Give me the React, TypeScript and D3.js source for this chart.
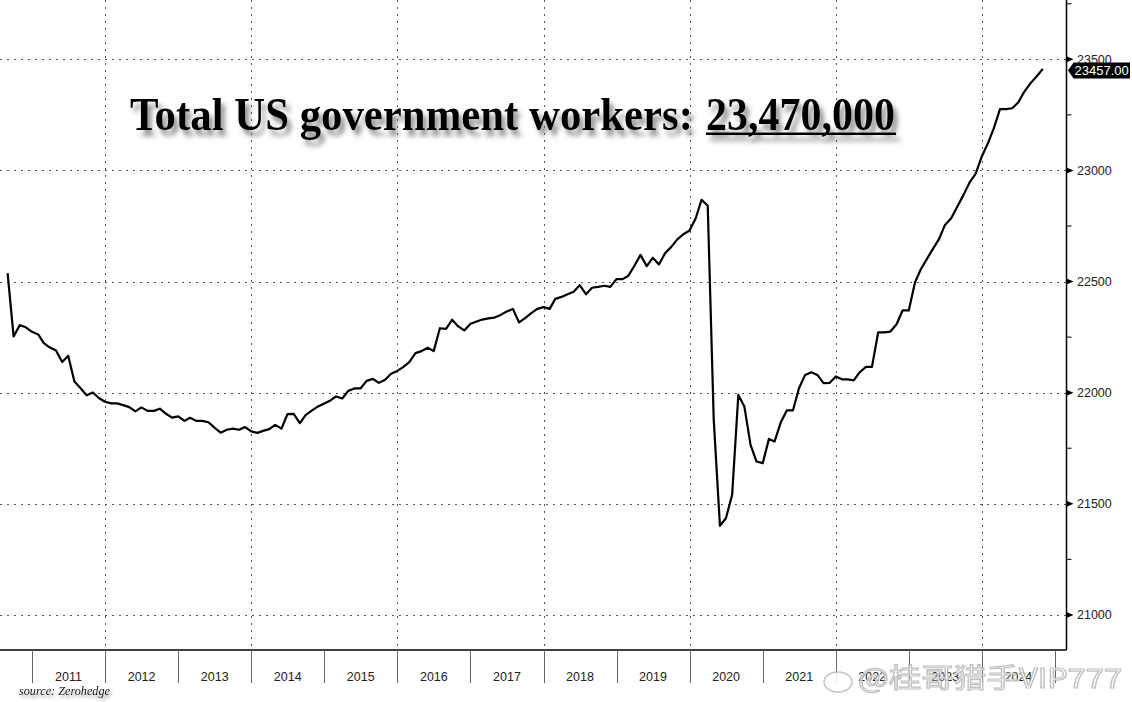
import React from "react";
import * as d3 from "d3";

// Monthly total US government employment (thousands), Sep 2010 .. Nov 2024
const startMonth = new Date(2010, 8, 1);
const govWorkers: number[] = [
  22538, 22253, 22304, 22294, 22274, 22262, 22223, 22203, 22190, 22138, 22166, 22050,
  22020, 21988, 22001, 21976, 21959, 21952, 21952, 21944, 21935, 21916, 21934, 21918,
  21918, 21928, 21905, 21888, 21893, 21873, 21887, 21873, 21873, 21867, 21843, 21820,
  21833, 21838, 21833, 21845, 21826, 21819, 21828, 21836, 21855, 21838, 21903, 21905,
  21863, 21900, 21920, 21938, 21951, 21965, 21983, 21974, 22008, 22019, 22019, 22053,
  22062, 22044, 22058, 22085, 22098, 22116, 22137, 22178, 22187, 22202, 22187, 22290,
  22287, 22328, 22298, 22280, 22310, 22320, 22329, 22334, 22338, 22350, 22365, 22377,
  22316, 22335, 22358, 22377, 22385, 22377, 22422, 22431, 22443, 22454, 22484, 22443,
  22472, 22476, 22481, 22476, 22511, 22511, 22526, 22572, 22620, 22569, 22607, 22577,
  22628, 22655, 22690, 22713, 22730, 22785, 22868, 22841, 21878, 21401, 21435, 21540,
  21990, 21938, 21765, 21690, 21683, 21792, 21780, 21866, 21920, 21920, 22020, 22080,
  22092, 22080, 22043, 22044, 22073, 22060, 22060, 22055, 22092, 22116, 22116, 22271,
  22271, 22275, 22308, 22370, 22370, 22496, 22553, 22601, 22646, 22691, 22755, 22785,
  22838, 22889, 22946, 22985, 23063, 23123, 23189, 23276, 23276, 23280, 23306, 23355,
  23393, 23423, 23457,
];
const yearLabels: number[] = [2011, 2012, 2013, 2014, 2015, 2016, 2017, 2018, 2019, 2020, 2021, 2022, 2023, 2024];
const gridYears: number[] = [2012, 2014, 2016, 2018, 2020, 2022, 2024];
const majorTicks: number[] = [21000, 21500, 22000, 22500, 23000, 23500];
const minorTicks: number[] = [21250, 21750, 22250, 22750, 23250, 23750];
const titleText = "Total US government workers:";
const titleNumber = "23,470,000";
const sourceText = "source: Zerohedge";
const watermark = "@桂哥猎手VIP777";

const W = 1132;
const H = 702;
const axisX = 1066.5;
const axisY = 650;

export default function App() {
  const x = d3
    .scaleTime()
    .domain([new Date(2011, 0, 1), new Date(2025, 0, 1)])
    .range([32, 1055]);
  const y = d3.scaleLinear().domain([20842, 23767]).range([axisY, 0]);

  const data = govWorkers.map((v, i) => ({ d: d3.timeMonth.offset(startMonth, i), v }));
  const line = d3
    .line<{ d: Date; v: number }>()
    .x((p) => x(p.d))
    .y((p) => y(p.v));

  const last = govWorkers[govWorkers.length - 1];
  const ly = y(last) + 1.5;
  const sans = "'Liberation Sans', Arial, sans-serif";
  const serif = "'Liberation Serif', 'Times New Roman', serif";

  return (
    <svg
      width={W}
      height={H}
      style={{ position: "absolute", left: 0, top: 0, background: "#fff" }}
    >
      <defs>
        <filter id="shadow" x="-10%" y="-30%" width="120%" height="180%">
          <feDropShadow dx="4" dy="6" stdDeviation="2.6" floodColor="#6a6a6a" floodOpacity="0.75" />
        </filter>
        <filter id="shadowSmall" x="-10%" y="-50%" width="130%" height="220%">
          <feDropShadow dx="2" dy="3" stdDeviation="1.6" floodColor="#777" floodOpacity="0.7" />
        </filter>
        <clipPath id="plotClip">
          <rect x={0} y={0} width={axisX} height={axisY} />
        </clipPath>
      </defs>
      <rect x={0} y={0} width={W} height={H} fill="#fff" />

      {/* horizontal grid */}
      {majorTicks.map((t) => (
        <line
          key={"hg" + t}
          x1={0}
          x2={axisX}
          y1={Math.round(y(t)) + 0.5}
          y2={Math.round(y(t)) + 0.5}
          stroke="#555"
          strokeWidth={1}
          strokeDasharray="2,5"
        />
      ))}
      {/* vertical grid */}
      {gridYears.map((yr) => {
        const gx = Math.round(x(new Date(yr, 0, 1))) + 0.5;
        return (
          <line
            key={"vg" + yr}
            x1={gx}
            x2={gx}
            y1={0}
            y2={axisY}
            stroke="#555"
            strokeWidth={1}
            strokeDasharray="2,5"
          />
        );
      })}

      {/* data line */}
      <path
        d={line(data) || ""}
        fill="none"
        stroke="#000"
        strokeWidth={2.2}
        strokeLinejoin="round"
        clipPath="url(#plotClip)"
      />

      {/* x axis */}
      <line x1={0} x2={axisX} y1={axisY} y2={axisY} stroke="#000" strokeWidth={1.5} />
      {[...yearLabels, 2025].map((yr) => {
        const sx = Math.round(x(new Date(yr, 0, 1))) + 0.5;
        return (
          <line key={"sep" + yr} x1={sx} x2={sx} y1={axisY} y2={683} stroke="#666" strokeWidth={1} />
        );
      })}
      {yearLabels.map((yr) => {
        const cx = (x(new Date(yr, 0, 1)) + x(new Date(yr + 1, 0, 1))) / 2;
        return (
          <text
            key={"yl" + yr}
            x={cx}
            y={681}
            textAnchor="middle"
            fontFamily={sans}
            fontSize={12.5}
            fill="#222"
          >
            {yr}
          </text>
        );
      })}

      {/* y axis */}
      <line x1={axisX} x2={axisX} y1={0} y2={axisY} stroke="#000" strokeWidth={1.5} />
      {minorTicks.map((t) => (
        <line key={"mt" + t} x1={axisX} x2={axisX + 5} y1={y(t)} y2={y(t)} stroke="#000" strokeWidth={1} />
      ))}
      {majorTicks.map((t) => (
        <g key={"yt" + t}>
          <path
            d={`M${axisX},${y(t) - 3}L${axisX + 7},${y(t)}L${axisX},${y(t) + 3}Z`}
            fill="#000"
          />
          <text
            x={1077}
            y={y(t) + 4.5}
            fontFamily={sans}
            fontSize={12.5}
            fill="#222"
          >
            {t}
          </text>
        </g>
      ))}

      {/* last value label */}
      <path
        d={`M${axisX + 1.5},${ly}L${axisX + 7},${ly - 8}L1130,${ly - 8}L1130,${ly + 8}L${axisX + 7},${ly + 8}Z`}
        fill="#000"
      />
      <text x={1074.5} y={ly + 4.8} fontFamily={sans} fontSize={13} fill="#fff">
        {last.toFixed(2)}
      </text>

      {/* title */}
      <g filter="url(#shadow)">
        <text
          x={130}
          y={130}
          fontFamily={serif}
          fontWeight="bold"
          fontSize={47}
          fill="#000"
          textLength={563}
          lengthAdjust="spacingAndGlyphs"
        >
          {titleText}
        </text>
        <text
          x={706}
          y={130}
          fontFamily={serif}
          fontWeight="bold"
          fontSize={47}
          fill="#000"
          textLength={189}
          lengthAdjust="spacingAndGlyphs"
        >
          {titleNumber}
        </text>
        <rect x={706} y={132.5} width={190} height={2.5} fill="#000" />
      </g>

      {/* source */}
      <g filter="url(#shadowSmall)">
        <text
          x={19}
          y={695}
          fontFamily={serif}
          fontStyle="italic"
          fontSize={13.5}
          fill="#111"
          textLength={91}
          lengthAdjust="spacingAndGlyphs"
        >
          {sourceText}
        </text>
      </g>

      {/* watermark */}
      <g opacity={0.85}>
        <ellipse cx={838} cy={682} rx={14} ry={10} fill="#fff" stroke="#bbb" strokeWidth={1.5} />
        <text
          x={858}
          y={688}
          fontFamily="'Noto Sans CJK SC', sans-serif"
          fontSize={27}
          fill="#fff"
          stroke="#b5b5b5"
          strokeWidth={1.2}
          textLength={264}
          lengthAdjust="spacingAndGlyphs"
        >
          {watermark}
        </text>
      </g>
    </svg>
  );
}
